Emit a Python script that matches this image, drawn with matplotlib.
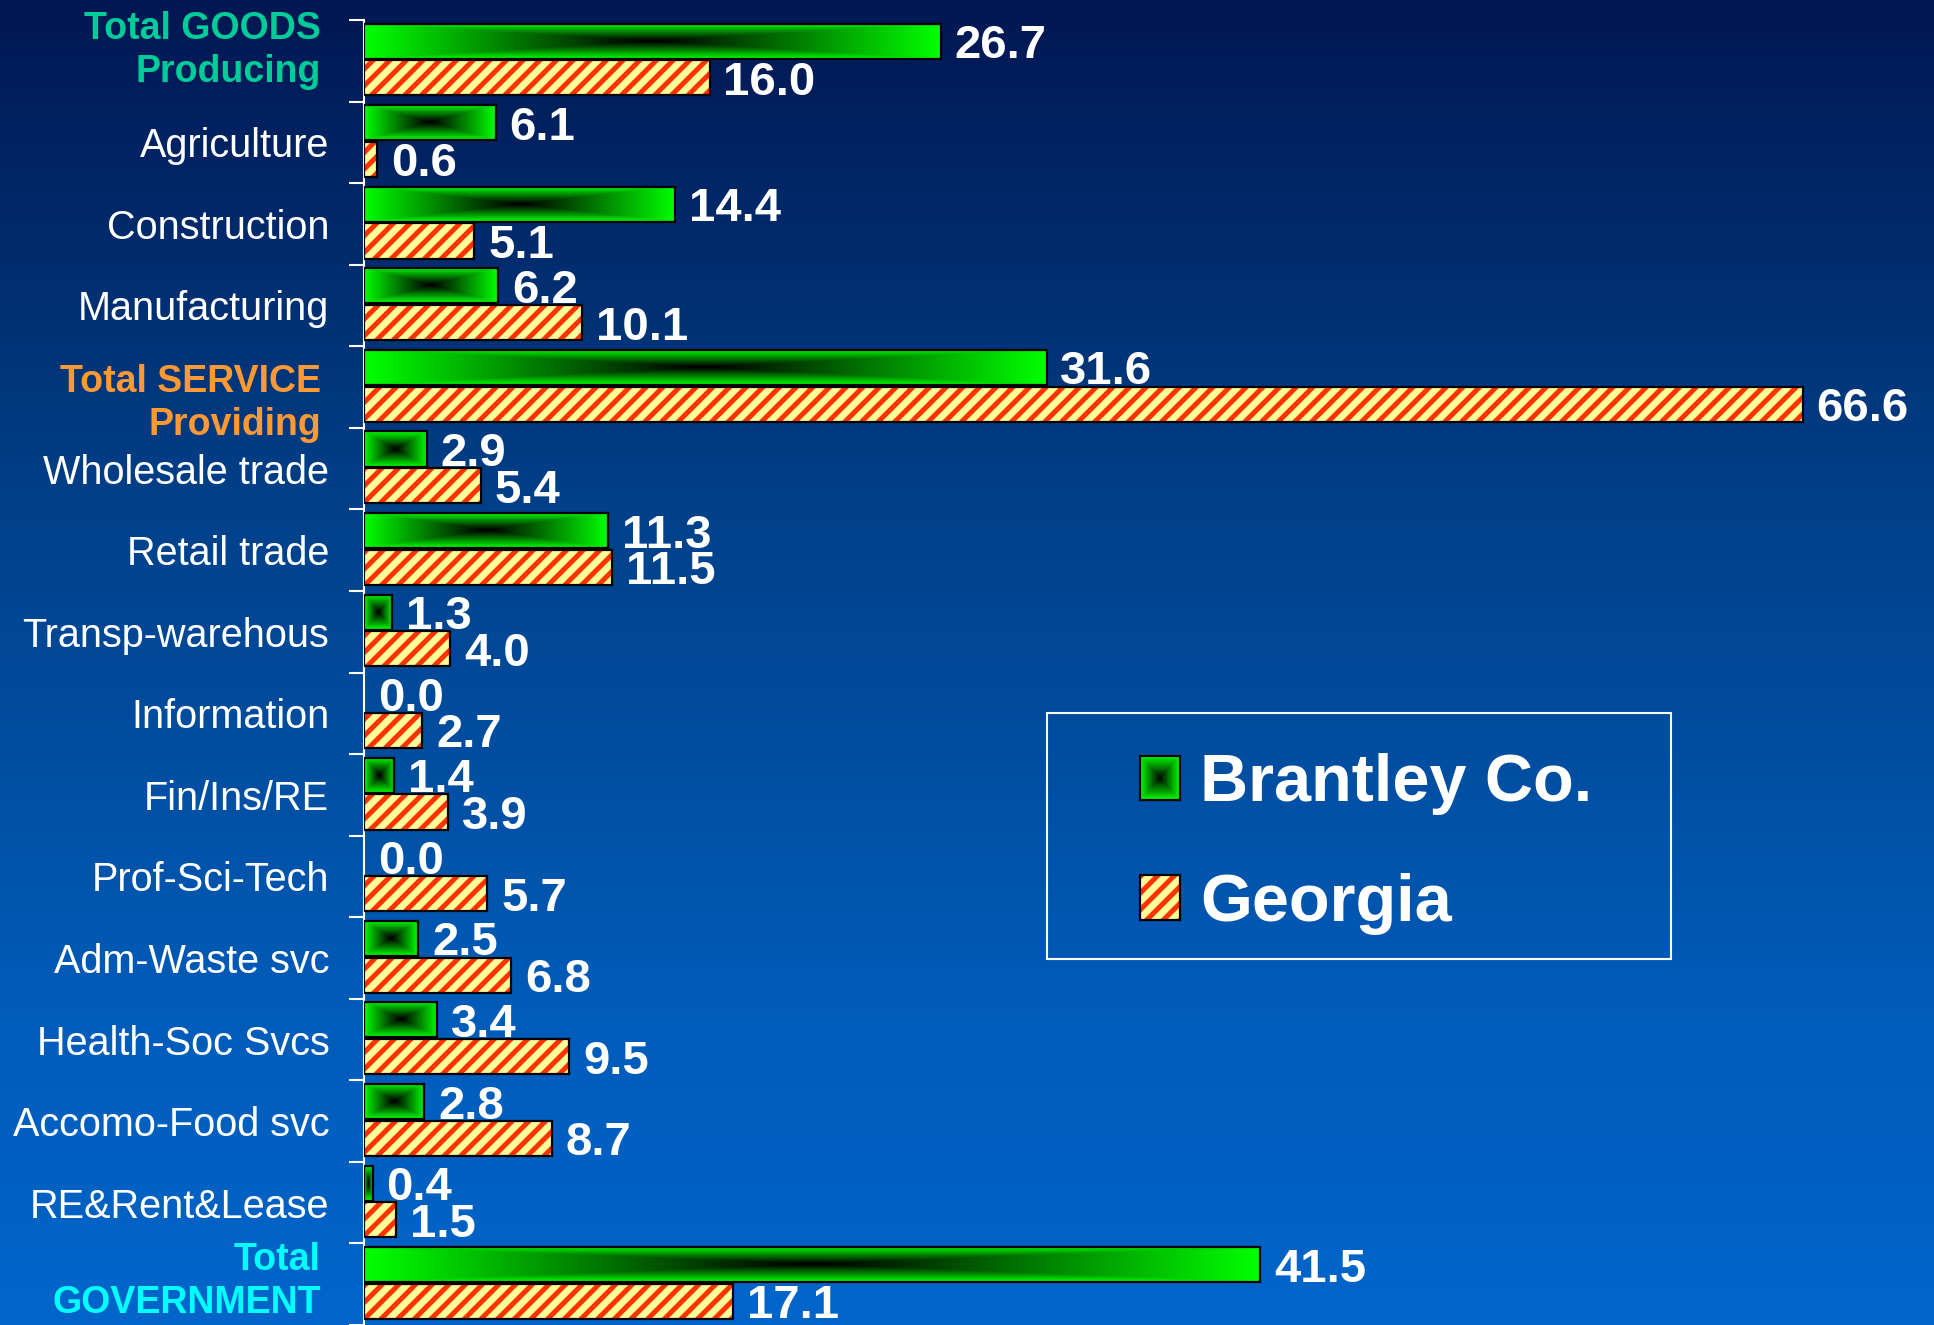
import matplotlib
matplotlib.use("Agg")
import matplotlib.pyplot as plt
import numpy as np
from matplotlib.colors import LinearSegmentedColormap
from matplotlib.legend_handler import HandlerBase
from matplotlib.patches import Patch, Rectangle

categories = [
    "Total GOODS\nProducing", "Agriculture", "Construction", "Manufacturing",
    "Total SERVICE\nProviding", "Wholesale trade", "Retail trade", "Transp-warehous",
    "Information", "Fin/Ins/RE", "Prof-Sci-Tech", "Adm-Waste svc", "Health-Soc Svcs",
    "Accomo-Food svc", "RE&Rent&Lease", "Total\nGOVERNMENT",
]
brantley = [26.7, 6.1, 14.4, 6.2, 31.6, 2.9, 11.3, 1.3, 0.0, 1.4, 0.0, 2.5, 3.4, 2.8, 0.4, 41.5]
georgia = [16.0, 0.6, 5.1, 10.1, 66.6, 5.4, 11.5, 4.0, 2.7, 3.9, 5.7, 6.8, 9.5, 8.7, 1.5, 17.1]
series_names = ["Brantley Co.", "Georgia"]

# rows drawn as coloured headline labels: index -> (colour, vertical nudge)
total_rows = {0: ("#00CC99", -0.13), 4: ("#FF9933", 0.2), 15: ("#00FFFF", -0.03)}

plt.rcParams["font.family"] = ["Liberation Sans", "DejaVu Sans"]
plt.rcParams["hatch.linewidth"] = 3.6

W, H, DPI = 1934, 1325, 100
AX_LEFT, AX_TOP = 364, 20
PX_PER_UNIT = 21.6

green_cmap = LinearSegmentedColormap.from_list("green", ["#000000", "#00FF00"])
bg_cmap = LinearSegmentedColormap.from_list(
    "bg", [(0, "#001752"), (0.19, "#002C6E"), (0.39, "#00418A"), (0.77, "#005CBA"), (1, "#0065CA")]
)
YELLOW, STRIPE = "#FFFF99", "#FF3300"
HATCH = "//"


class GradientHandler(HandlerBase):
    def create_artists(self, legend, orig_handle, xdescent, ydescent, width, height, fontsize, trans):
        arts = []
        n = 24
        for k in range(n):
            f = 1 - k / n
            w, hh = width * f, height * f
            arts.append(Rectangle((-xdescent + (width - w) / 2, -ydescent + (height - hh) / 2), w, hh,
                                  facecolor=green_cmap(f), edgecolor="none", transform=trans))
        arts.append(Rectangle((-xdescent, -ydescent), width, height, facecolor="none",
                              edgecolor="black", lw=1.6, transform=trans))
        return arts


class HatchHandler(HandlerBase):
    def create_artists(self, legend, orig_handle, xdescent, ydescent, width, height, fontsize, trans):
        base = Rectangle((-xdescent, -ydescent), width, height, facecolor=YELLOW, edgecolor=STRIPE,
                         hatch=HATCH, lw=0, transform=trans)
        edge = Rectangle((-xdescent, -ydescent), width, height, facecolor="none",
                         edgecolor="black", lw=1.6, transform=trans)
        return [base, edge]


fig = plt.figure(figsize=(W / DPI, H / DPI), dpi=DPI)

# background gradient
bg = fig.add_axes([0, 0, 1, 1], zorder=0)
bg.imshow(np.linspace(0, 1, 512)[:, None], aspect="auto", cmap=bg_cmap, extent=[0, 1, 0, 1], origin="upper")
bg.set_axis_off()

ax = fig.add_axes([AX_LEFT / W, 0, 1 - AX_LEFT / W, (H - AX_TOP) / H], zorder=1)
ax.set_facecolor("none")

y = np.arange(len(categories))
h = 0.43
g_off, o_off = -0.24, 0.21

uu, vv = np.meshgrid(np.linspace(-1, 1, 240), np.linspace(-1, 1, 48))
shade = np.maximum(np.abs(uu), np.abs(vv))

for yi, val in zip(y, brantley):
    if val <= 0:
        continue
    yc = yi + g_off
    ax.imshow(shade, cmap=green_cmap, extent=[0, val, yc + h / 2, yc - h / 2], aspect="auto",
              interpolation="bilinear", zorder=2)
    ax.barh(yc, val, height=h, facecolor="none", edgecolor="black", linewidth=1.6, zorder=3)

ax.barh(y + o_off, georgia, height=h, color=YELLOW, edgecolor=STRIPE, hatch=HATCH, linewidth=0, zorder=2)
ax.barh(y + o_off, georgia, height=h, facecolor="none", edgecolor="black", linewidth=1.6, zorder=3)

for yi, bv, gv in zip(y, brantley, georgia):
    for val, off in ((bv, g_off), (gv, o_off)):
        ax.annotate(f"{val:.1f}", (val, yi + off), xytext=(10, 0), textcoords="offset points",
                    va="center_baseline", ha="left", color="white", fontsize=34, fontweight="bold",
                    zorder=4, annotation_clip=False)

ax.set_xlim(0, (W - AX_LEFT) / PX_PER_UNIT)
ax.set_ylim(len(categories) - 0.5, -0.5)
ax.set_xticks([])

ax.set_yticks(np.arange(len(categories) + 1) - 0.5)
ax.set_yticklabels([])
ax.set_yticks(y, minor=True)
ax.set_yticklabels(["" if i in total_rows else c for i, c in enumerate(categories)], minor=True,
                   fontsize=28.5, color="white")
ax.tick_params(axis="y", which="major", length=10.8, width=1.5, color="white", direction="out")
ax.tick_params(axis="y", which="minor", length=0, pad=25)

for i, (color, dy) in total_rows.items():
    ax.text(-43 / (W - AX_LEFT), i + dy, categories[i], transform=ax.get_yaxis_transform(),
            ha="right", va="center", multialignment="right", color=color, fontsize=27,
            fontweight="bold", linespacing=1.24)

for side in ("top", "right", "bottom"):
    ax.spines[side].set_visible(False)
ax.spines["left"].set_color("white")
ax.spines["left"].set_linewidth(1.5)

h1, h2 = Patch(), Patch()
ax.legend([h1, h2], series_names, handler_map={h1: GradientHandler(), h2: HatchHandler()},
          loc="center", bbox_to_anchor=(1366 / W, 1 - 844 / H), bbox_transform=fig.transFigure,
          frameon=False, prop={"size": 48, "weight": "bold"}, labelcolor="white",
          handlelength=0.6, handleheight=0.65, handletextpad=0.3, labelspacing=0.86)

fig.add_artist(Rectangle((1047 / W, 1 - 959 / H), 624 / W, 246 / H, transform=fig.transFigure,
                         fill=False, edgecolor="white", lw=1.5, zorder=5))

fig.savefig("out.png", dpi=DPI)
